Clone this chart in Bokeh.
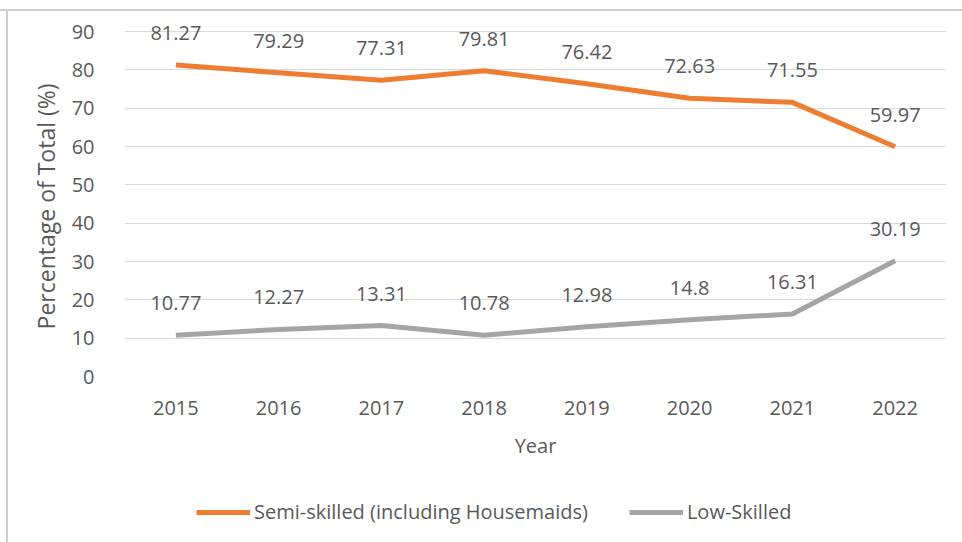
from bokeh.plotting import figure
from bokeh.layouts import column
from bokeh.models import ColumnDataSource, Legend, LegendItem, Range1d, FixedTicker, Div
from bokeh.core.properties import value
from bokeh.embed import file_html
from bokeh.resources import INLINE

years = ["2015", "2016", "2017", "2018", "2019", "2020", "2021", "2022"]
semi_skilled = [81.27, 79.29, 77.31, 79.81, 76.42, 72.63, 71.55, 59.97]
semi_labels = ["81.27", "79.29", "77.31", "79.81", "76.42", "72.63", "71.55", "59.97"]
low_skilled = [10.77, 12.27, 13.31, 10.78, 12.98, 14.8, 16.31, 30.19]
low_labels = ["10.77", "12.27", "13.31", "10.78", "12.98", "14.8", "16.31", "30.19"]
y_ticks = [0, 10, 20, 30, 40, 50, 60, 70, 80, 90]
series_names = ["Semi-skilled (including Housemaids)", "Low-Skilled"]

FONT = "Open Sans"
TXT = "#595959"
ORANGE = "#ED7D31"
GRAY = "#A5A5A5"
EDGE = "#cfcfcf"

src = ColumnDataSource(dict(x=years, semi=semi_skilled, semi_lab=semi_labels,
                            low=low_skilled, low_lab=low_labels))

# thin frame line across the top of the picture
top_line = Div(text="", width=962, height=11, margin=0,
               styles={"box-sizing": "border-box", "border-bottom": f"2px solid {EDGE}",
                       "width": "962px", "height": "11px"})

p = figure(width=962, height=465, x_range=years, y_range=Range1d(0, 95),
           output_backend="svg", toolbar_location=None,
           min_border_left=124, min_border_right=16, min_border_top=1,
           min_border_bottom=100, margin=0)
p.border_fill_alpha = 0
p.background_fill_color = "white"
p.outline_line_color = None

p.xgrid.grid_line_color = None
p.ygrid.grid_line_color = "#D9D9D9"
p.ygrid.grid_line_width = 1
p.yaxis.ticker = FixedTicker(ticks=y_ticks)

for ax in (p.xaxis[0], p.yaxis[0]):
    ax.axis_line_color = None
    ax.major_tick_line_color = None
    ax.minor_tick_line_color = None
    ax.major_label_text_font = FONT
    ax.major_label_text_font_size = "20px"
    ax.major_label_text_color = TXT
    ax.axis_label_text_font = FONT
    ax.axis_label_text_font_size = "20px"
    ax.axis_label_text_color = TXT
    ax.axis_label_text_font_style = "normal"

# trailing no-break spaces keep the title centred on the 0-90 band
p.yaxis.axis_label = "Percentage of Total (%)" + "\u00a0" * 4
p.yaxis.axis_label_text_font_size = "23px"
p.yaxis.major_label_standoff = 24
p.yaxis.axis_label_standoff = 7
p.xaxis.axis_label = "Year"
p.xaxis.major_label_standoff = 18
p.xaxis.axis_label_standoff = 14

p.line("x", "semi", source=src, line_color=ORANGE, line_width=5, line_join="round")
p.line("x", "low", source=src, line_color=GRAY, line_width=5, line_join="round")

for col, lab in (("semi", "semi_lab"), ("low", "low_lab")):
    p.text(x="x", y=col, text=lab, source=src, text_align="center",
           text_baseline="middle", y_offset=-32, text_font=value(FONT),
           text_font_size="20px", text_color=TXT)

# legend strip below the chart (series drawn out of view, only their keys show)
lg = figure(width=962, height=66, x_range=years, y_range=Range1d(1000, 1001),
            output_backend="svg", toolbar_location=None,
            min_border_left=0, min_border_right=0, min_border_top=0, min_border_bottom=0,
            margin=0)
lg.axis.visible = False
lg.grid.visible = False
lg.outline_line_color = None
lg.border_fill_alpha = 0
lg.background_fill_alpha = 0
k1 = lg.line("x", "semi", source=src, line_color=ORANGE, line_width=5)
k2 = lg.line("x", "low", source=src, line_color=GRAY, line_width=5)
legend = Legend(items=[LegendItem(label=series_names[0], renderers=[k1]),
                       LegendItem(label=series_names[1], renderers=[k2])],
                orientation="horizontal", location=(72, 17),
                glyph_width=54, glyph_height=20, label_standoff=4, spacing=41,
                padding=0, margin=0, border_line_color=None,
                background_fill_alpha=0, label_text_font=FONT,
                label_text_font_size="20px", label_text_color=TXT)
lg.add_layout(legend, "center")

layout = column(top_line, p, lg, spacing=0)
layout.styles = {
    "background-color": "white",
    "background-image": f"linear-gradient({EDGE},{EDGE}), linear-gradient({EDGE},{EDGE})",
    "background-size": "2px 531px, 962px 2px",
    "background-position": "6px 11px, 0px 9px",
    "background-repeat": "no-repeat, no-repeat",
}

open("out.html", "w").write(file_html(layout, INLINE))
